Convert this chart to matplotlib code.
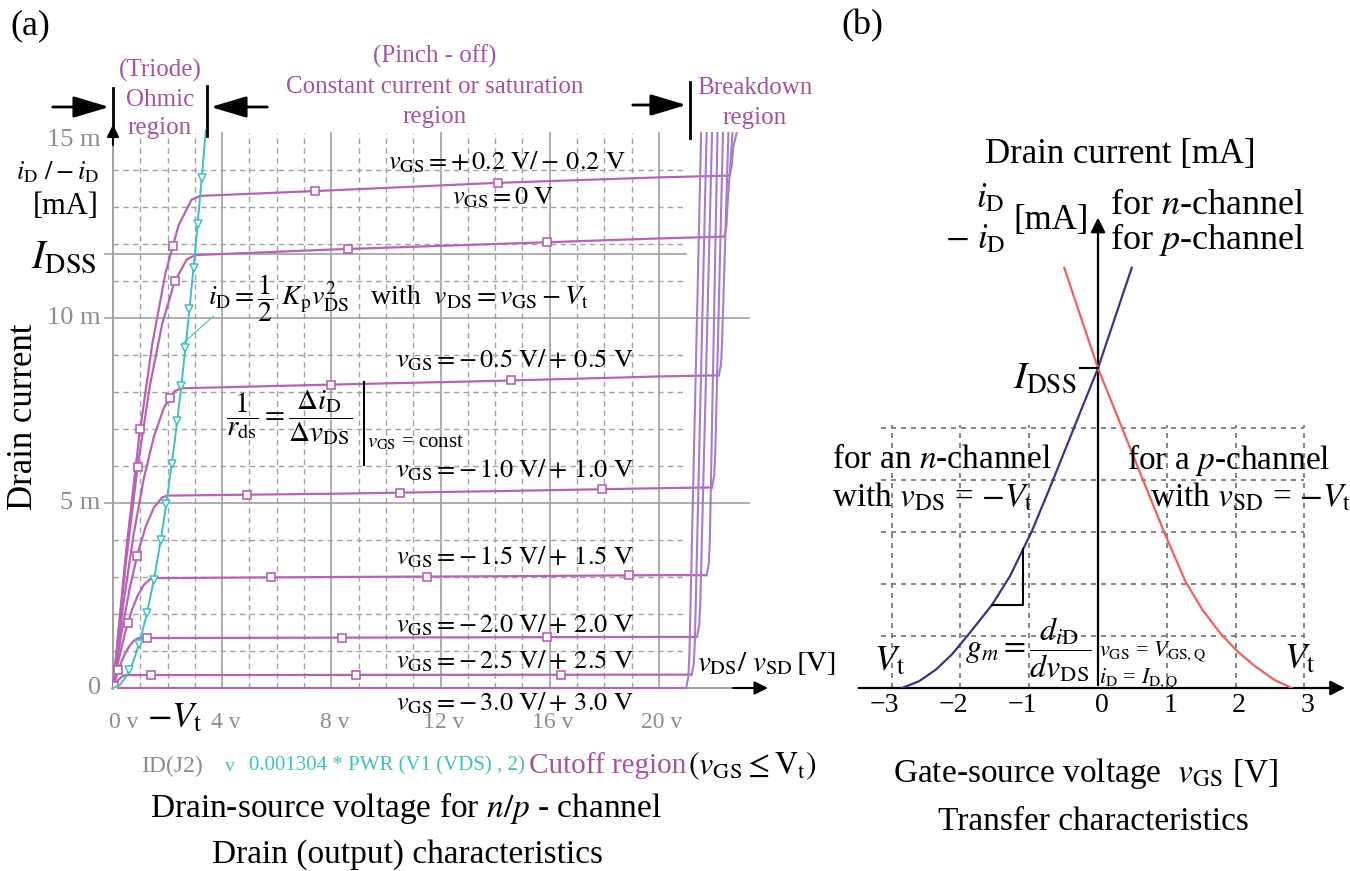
import numpy as np
import matplotlib
matplotlib.use('Agg')
import matplotlib.pyplot as plt
from matplotlib.lines import Line2D

plt.rcParams['font.family'] = ['Liberation Serif', 'DejaVu Serif']
plt.rcParams['mathtext.fontset'] = 'stix'

W, H = 1350, 871

# ---------------- panel (a): drain characteristics ----------------
vgs_names = ['+0.2', '0', '-0.5', '-1.0', '-1.5', '-2.0', '-2.5', '-3.0']

vds_p02 = [0, 0.48, 0.96, 1.44, 1.92, 2.4, 2.88, 3.2, 8, 14, 20, 22.6]
id_p02 = [0, 3.7, 6.8, 9.3, 11.2, 12.5, 13.2, 13.3, 13.45, 13.65, 13.8, 13.85]
vds_0 = [0, 0.45, 0.9, 1.35, 1.8, 2.25, 2.7, 3.0, 8, 14, 20, 22.4]
id_0 = [0, 3.25, 5.97, 8.16, 9.83, 10.97, 11.58, 11.7, 11.85, 12.0, 12.15, 12.2]
vds_m05 = [0, 0.375, 0.75, 1.125, 1.5, 1.875, 2.25, 2.5, 8, 14, 20, 22.2]
id_m05 = [0, 2.25, 4.13, 5.65, 6.8, 7.59, 8.02, 8.1, 8.2, 8.3, 8.42, 8.45]
vds_m10 = [0, 0.3, 0.6, 0.9, 1.2, 1.5, 1.8, 2.0, 8, 14, 20, 21.95]
id_m10 = [0, 1.44, 2.65, 3.63, 4.37, 4.88, 5.15, 5.2, 5.25, 5.32, 5.4, 5.42]
vds_m15 = [0, 0.225, 0.45, 0.675, 0.9, 1.125, 1.35, 1.5, 8, 14, 20, 21.75]
id_m15 = [0, 0.82, 1.51, 2.07, 2.49, 2.78, 2.94, 2.97, 3.0, 3.02, 3.05, 3.05]
vds_m20 = [0, 0.15, 0.3, 0.45, 0.6, 0.75, 0.9, 1.0, 20, 21.4]
id_m20 = [0, 0.37, 0.69, 0.94, 1.13, 1.27, 1.34, 1.35, 1.38, 1.38]
vds_m25 = [0, 0.075, 0.15, 0.225, 0.3, 0.375, 0.45, 0.5, 20, 21.2]
id_m25 = [0, 0.10, 0.18, 0.24, 0.29, 0.33, 0.35, 0.35, 0.36, 0.36]
vds_m30 = [0, 21.0]
id_m30 = [0, 0]

# breakdown branches
bd_vds = [[22.6, 22.68, 22.72, 22.85], [22.4, 22.48, 22.52, 22.7],
          [22.2, 22.28, 22.32, 22.55], [21.95, 22.03, 22.07, 22.35],
          [21.75, 21.83, 21.87, 22.15], [21.4, 21.48, 21.52, 21.95],
          [21.2, 21.28, 21.32, 21.75], [21.0, 21.08, 21.12, 21.55]]
bd_id = [[13.85, 14.15, 14.6, 15.0], [12.2, 12.5, 13.1, 15.0],
         [8.45, 8.75, 9.4, 15.0], [5.42, 5.75, 6.4, 15.0],
         [3.05, 3.35, 4.0, 15.0], [1.38, 1.7, 2.3, 15.0],
         [0.36, 0.65, 1.25, 15.0], [0, 0.3, 0.9, 15.0]]

# marker positions (vDS) on each curve
marks = [[1.0, 2.2, 7.4, 14.1], [0.9, 2.27, 8.6, 15.9], [2.1, 8.0, 14.6],
         [0.88, 4.9, 10.5, 17.9], [0.55, 5.8, 11.5, 18.9],
         [0.2, 1.25, 8.4, 15.9], [0.05, 1.4, 8.9, 16.4], []]

# parabola 0.001304*vDS^2 (read points)
cyan_vds = [0, 0.25, 0.5, 0.75, 1, 1.25, 1.5, 1.75, 2, 2.25, 2.5, 2.75, 3, 3.2, 3.4]
cyan_id = [0, 0.08, 0.33, 0.73, 1.3, 2.04, 2.93, 3.99, 5.22, 6.6, 8.15, 9.86,
           11.74, 13.35, 15.07]
cyan_marks = [0.6, 0.95, 1.25, 1.5, 1.75, 1.95, 2.15, 2.35, 2.5, 2.65, 2.8,
              2.95, 3.1, 3.25]

idss_a = 11.73
xtick_vals = [0, 4, 8, 12, 16, 20]
xtick_text = ['0 v', '4 v', '8 v', '12 v', '16 v', '20 v']
ytick_vals = [0, 5, 10, 15]
ytick_text = ['0', '5 m', '10 m', '15 m']

# ---------------- panel (b): transfer characteristics ----------------
vgs_n = [-2.85, -2.6, -2.35, -2.12, -1.9, -1.54, -1.28, -0.96, -0.7, -0.35, 0, 0.49]
id_n = [0, 0.13, 0.36, 0.65, 1.0, 1.6, 2.15, 3.02, 3.85, 5.0, 6.15, 8.08]
vgs_p = [-0.49, 0, 0.35, 0.7, 0.96, 1.27, 1.52, 1.78, 2.03, 2.28, 2.57, 2.82]
id_p = [8.08, 6.15, 5.0, 3.85, 3.0, 2.05, 1.5, 1.05, 0.7, 0.42, 0.15, 0]
idss_b = 6.15
tri_v = [-1.54, -1.09, -1.09]
tri_i = [1.6, 1.6, 2.67]
b_ticks = [-3, -2, -1, 0, 1, 2, 3]
b_tick_text = ['\u22123', '\u22122', '\u22121', '0', '1', '2', '3']

PURPLE = '#a8519f'
CURVE = '#b862b6'
BDCOL = '#a67ccc'
CYAN = '#3fc0c0'
GRID = '#a0a0a0'
TGRAY = '#8c8c8c'

fig = plt.figure(figsize=(13.5, 8.71), dpi=100)


def ftext(x, y, s, **kw):
    return fig.text(x / W, 1 - y / H, s, **kw)


def fline(xs, ys, **kw):
    fig.add_artist(Line2D([x / W for x in xs], [1 - y / H for y in ys],
                          transform=fig.transFigure, **kw))


def farrow(x0, y0, x1, y1):
    fig.add_artist(matplotlib.patches.FancyArrowPatch(
        (x0 / W, 1 - y0 / H), (x1 / W, 1 - y1 / H), transform=fig.transFigure,
        arrowstyle='-|>,head_length=1.0,head_width=0.3', mutation_scale=22,
        color='k', lw=2.0))


# ---- axes (a) ----
ax = fig.add_axes([113 / W, 1 - 688 / H, 655 / W, 555 / H])
ax.set_xlim(0, 24)
ax.set_ylim(0, 15)
ax.axis('off')

for v in range(1, 21):
    if v % 4 == 0:
        ax.plot([v, v], [0, 15], color=GRID, lw=1.2, zorder=1, clip_on=False)
    else:
        ax.plot([v, v], [0, 15], color=GRID, lw=1, ls=(0, (4, 3)), zorder=1, clip_on=False)
for i in range(1, 15):
    if i in (5, 10):
        ax.plot([-0.3, 23.3], [i, i], color=GRID, lw=1.2, zorder=1, clip_on=False)
    else:
        ax.plot([0, 21], [i, i], color=GRID, lw=1, ls=(0, (4, 3)), zorder=1, clip_on=False)
ax.plot([-0.3, 21], [idss_a, idss_a], color=GRID, lw=1.2, zorder=1, clip_on=False)
ax.plot([0, 0], [0, 14.8], color=GRID, lw=1.4, zorder=1, clip_on=False)
ax.plot([0, 22.6], [0, 0], color=GRID, lw=1.4, zorder=1, clip_on=False)
ax.annotate('', xy=(24.1, 0), xytext=(22.6, 0), annotation_clip=False,
            arrowprops=dict(arrowstyle='-|>', color='k', lw=1.5, mutation_scale=20))
ax.annotate('', xy=(0, 15.3), xytext=(0, 14.6), annotation_clip=False,
            arrowprops=dict(arrowstyle='-|>', color='k', lw=1.5, mutation_scale=18))

curves_v = [vds_p02, vds_0, vds_m05, vds_m10, vds_m15, vds_m20, vds_m25, vds_m30]
curves_i = [id_p02, id_0, id_m05, id_m10, id_m15, id_m20, id_m25, id_m30]
for k in range(len(vgs_names)):
    ax.plot(curves_v[k], curves_i[k], color=CURVE, lw=1.6, zorder=3, clip_on=False)
    ax.plot(bd_vds[k], bd_id[k], color=BDCOL, lw=1.5, zorder=3, clip_on=False)
    if marks[k]:
        ax.plot(marks[k], np.interp(marks[k], curves_v[k], curves_i[k]), ls='none',
                marker='s', ms=5.5, mfc='white', mec=CURVE, mew=1.2, zorder=4)

ax.plot(cyan_vds, cyan_id, color=CYAN, lw=1.4, zorder=4, clip_on=False)
ax.plot(cyan_marks, np.interp(cyan_marks, cyan_vds, cyan_id), ls='none', marker='v',
        ms=6, mfc='white', mec=CYAN, mew=1.1, zorder=5)
ax.plot([2.54, 3.68], [9.3, 10.05], color=CYAN, lw=0.8, zorder=4)

for v, s in zip(xtick_vals, xtick_text):
    if v == 0:
        ax.text(-0.15, -0.92, s, color=TGRAY, fontsize=17, ha='left', va='center')
    else:
        ax.text(v + 0.12, -0.92, s, color=TGRAY, fontsize=17, ha='center', va='center')
for i, s in zip(ytick_vals, ytick_text):
    ax.text(-0.45, i - (0.2 if i == 15 else 0), s, color=TGRAY, fontsize=19,
            ha='right', va='center')

# region delimiters
fline([113, 113], [88, 133], color='k', lw=2)
fline([207, 207], [86, 136], color='k', lw=2)
fline([690, 690], [82, 138], color='k', lw=2)
farrow(50, 107, 112, 107)
farrow(270, 107, 208, 107)
farrow(630, 105, 689, 105)

for s, x, y in [('(Triode)', 160, 70), ('Ohmic', 160, 100), ('region', 160, 128),
                ('(Pinch - off)', 435, 56),
                ('Constant current or saturation', 435, 87), ('region', 435, 117),
                ('Breakdown', 755, 88), ('region', 755, 118)]:
    ftext(x, y, s, color=PURPLE, fontsize=18, ha='center', va='center')

ftext(30, 26, '(a)', fontsize=26, ha='center', va='center')
ftext(58, 172, r'$i_{\rm D}\ /-i_{\rm D}$', fontsize=19, ha='center', va='center')
ftext(66, 206, '[mA]', fontsize=22, ha='center', va='center')
ftext(97, 258, r'$I_{\rm DSS}$', fontsize=29, ha='right', va='center')
ftext(24, 417, 'Drain current', fontsize=25, rotation=90, ha='center', va='center')

lab = r'$v_{\rm GS}=%s\,%s\ \mathrm{V}/%s\,%s\ \mathrm{V}$'
ftext(388, 162, lab % ('+', '0.2', '-', '0.2'), fontsize=19, ha='left', va='center')
ftext(452, 198, r'$v_{\rm GS}=0\ \mathrm{V}$', fontsize=19, ha='left', va='center')
label_y = [360, 470, 557, 625, 661, 703]
label_v = ['0.5', '1.0', '1.5', '2.0', '2.5', '3.0']
for y, s in zip(label_y, label_v):
    ftext(396, y, lab % ('-', s, '+', s), fontsize=19, ha='left', va='center')

ftext(208, 298, r'$i_{\rm D} = \dfrac{1}{2}\ K_{\rm p}v_{\rm DS}^{2}$   with  '
      r'$v_{\rm DS} = v_{\rm GS} - V_{\rm t}$', fontsize=20, ha='left', va='center')
ftext(226, 418, r'$\dfrac{1}{r_{\rm ds}}=\dfrac{\Delta i_{\rm D}}{\Delta v_{\rm DS}}$',
      fontsize=21, ha='left', va='center')
fline([364, 364], [382, 465], color='k', lw=1.5)
ftext(367, 443, r'$v_{\rm GS}$ = const', fontsize=15, ha='left', va='center')
ftext(697, 664, r'$v_{\rm DS}/\ v_{\rm SD}\,[\mathrm{V}]$', fontsize=21, ha='left',
      va='center')
ftext(175, 719, r'$-V_{\rm t}$', fontsize=26, ha='center', va='center')

ftext(141, 766, 'ID(J2)', color=TGRAY, fontsize=17, ha='left', va='center')
ftext(225, 766, 'v', color=CYAN, fontsize=14, ha='left', va='center')
ftext(249, 766, '0.001304 * PWR (V1 (VDS) , 2)', color=CYAN, fontsize=15,
      ha='left', va='center')
ftext(529, 766, 'Cutoff region', color=PURPLE, fontsize=21, ha='left', va='center')
ftext(688, 766, r'$(v_{\rm GS} \leq \mathrm{V}_{\rm t})$', fontsize=23, ha='left',
      va='center')
ftext(406, 808, r'Drain-source voltage for $n/p$ - channel', fontsize=24,
      ha='center', va='center')
ftext(408, 855, 'Drain (output) characteristics', fontsize=24, ha='center', va='center')

# ---- axes (b) ----
bx = fig.add_axes([850.3 / W, 1 - 688 / H, 495.4 / W, 494 / H])
bx.set_xlim(-3.6, 3.6)
bx.set_ylim(0, 9.5)
bx.axis('off')
for v in b_ticks:
    if v != 0:
        bx.plot([v, v], [0, 5.05], color='#707070', lw=1.2, ls=(0, (3, 3)), zorder=1)
for i in range(1, 6):
    bx.plot([-3.15, 3.0], [i, i], color='#707070', lw=1.2, ls=(0, (3, 3)), zorder=1)
bx.annotate('', xy=(3.63, 0), xytext=(-3.52, 0), annotation_clip=False,
            arrowprops=dict(arrowstyle='-|>', color='k', lw=1.6, mutation_scale=22))
bx.annotate('', xy=(0, 9.1), xytext=(0, 0), annotation_clip=False,
            arrowprops=dict(arrowstyle='-|>', color='k', lw=1.6, mutation_scale=22))
bx.plot(vgs_n, id_n, color='#37348a', lw=1.6, zorder=3)
bx.plot(vgs_p, id_p, color='#f0605c', lw=1.6, zorder=3)
bx.plot([-0.26, 0], [idss_b, idss_b], color='k', lw=1.5, zorder=3)
bx.plot(tri_v, tri_i, color='k', lw=1.5, zorder=3)
for v, s in zip(b_ticks, b_tick_text):
    bx.text(v + (0.05 if v >= 0 else -0.1), -0.33, s, fontsize=20,
            ha='center', va='center')

ftext(862, 26, '(b)', fontsize=26, ha='center', va='center')
ftext(1120, 155, 'Drain current [mA]', fontsize=25, ha='center', va='center')
ftext(990, 199, r'$i_{\rm D}$', fontsize=25, ha='center', va='center')
ftext(975, 240, r'$-\ i_{\rm D}$', fontsize=25, ha='center', va='center')
ftext(1051, 220, '[mA]', fontsize=25, ha='center', va='center')
ftext(1110, 205, r'for $n$-channel', fontsize=26, ha='left', va='center')
ftext(1110, 240, r'for $p$-channel', fontsize=26, ha='left', va='center')
ftext(1076, 378, r'$I_{\rm DSS}$', fontsize=28, ha='right', va='center')
ftext(832, 460, r'for an $n$-channel', fontsize=24, ha='left', va='center')
ftext(832, 497, r'with $v_{\rm DS}$ = $-V_{\rm t}$', fontsize=24, ha='left', va='center')
ftext(1127, 460, r'for a $p$-channel', fontsize=24, ha='left', va='center')
ftext(1150, 497, r'with $v_{\rm SD}$ = $-V_{\rm t}$', fontsize=24, ha='left', va='center')
ftext(890, 662, r'$V_{\rm t}$', fontsize=26, ha='center', va='center')
ftext(1300, 660, r'$V_{\rm t}$', fontsize=26, ha='center', va='center')
ftext(965, 650, r'$g_m=\dfrac{d_{i\rm D}}{dv_{\rm DS}}$', fontsize=23, ha='left',
      va='center')
ftext(1099, 651, r'$v_{\rm GS}$ = $V_{\rm GS,Q}$', fontsize=16, ha='left', va='center')
ftext(1099, 678, r'$i_{\rm D}$ = $I_{\rm D,Q}$', fontsize=16, ha='left', va='center')
ftext(1085, 773, r'Gate-source voltage  $v_{\rm GS}$ [V]', fontsize=24,
      ha='center', va='center')
ftext(1093, 822, 'Transfer characteristics', fontsize=24, ha='center', va='center')

fig.savefig('out.png', dpi=100)
